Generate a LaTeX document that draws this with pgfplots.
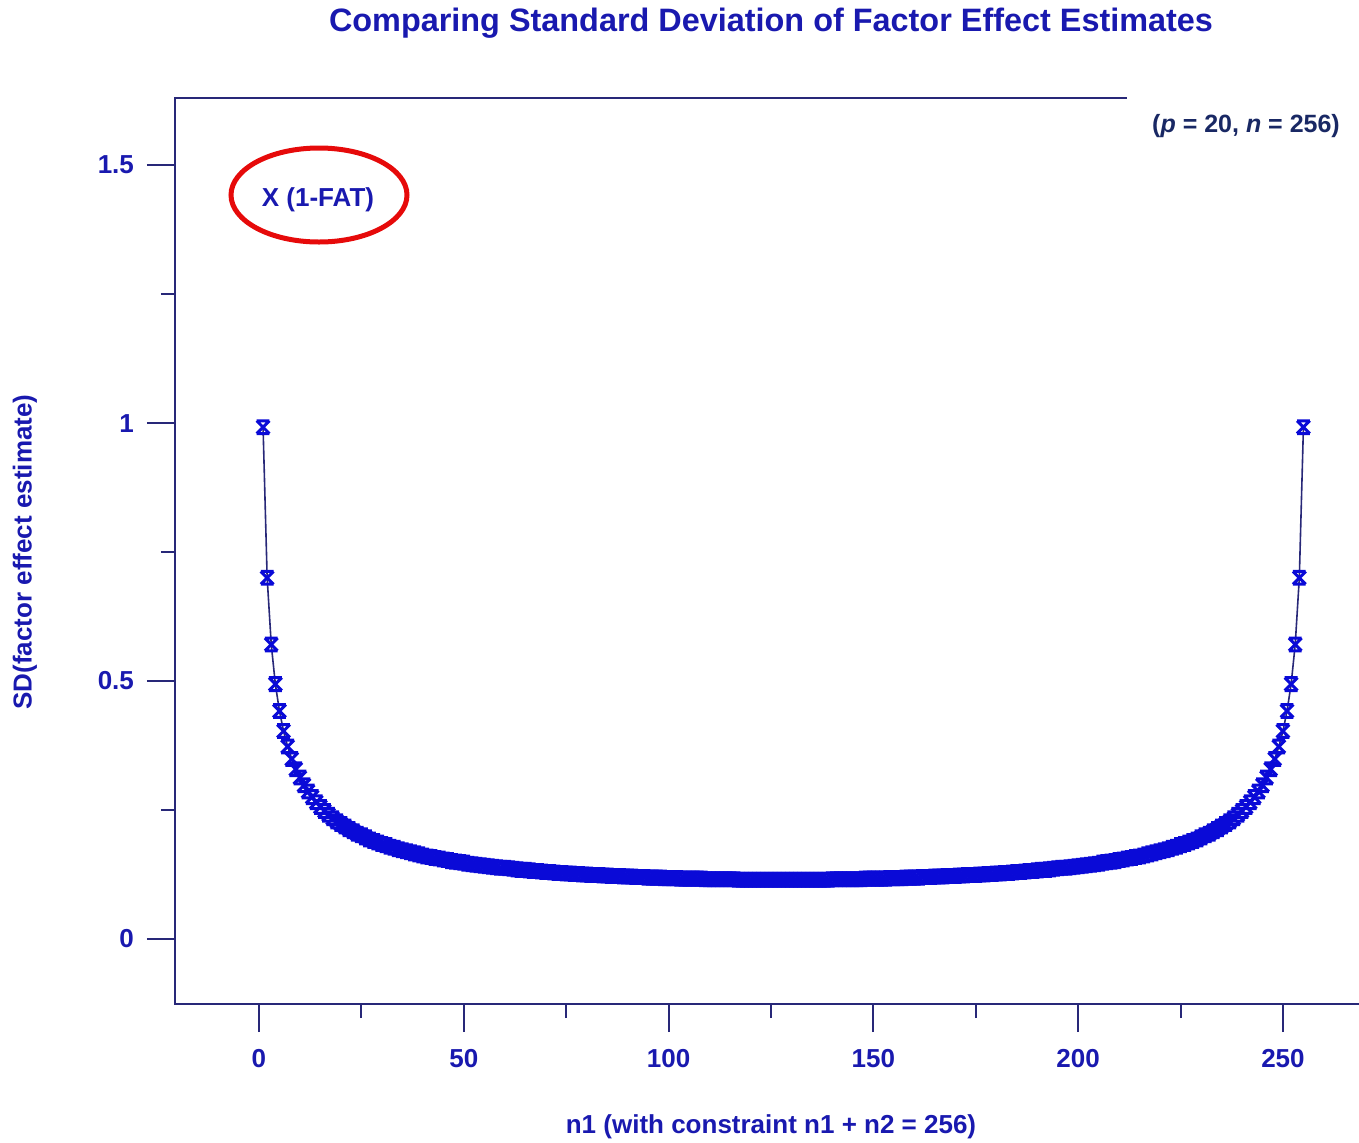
\documentclass[border=0pt]{standalone}
\usepackage{fontspec}
\setmainfont{Liberation Sans}
\usepackage{pgfplots}
\pgfplotsset{compat=1.18}
\usepackage{pgfplotstable}

\definecolor{axnavy}{RGB}{40,40,120}
\definecolor{lblue}{RGB}{25,25,175}
\definecolor{mblue}{RGB}{10,10,215}
\definecolor{boxnavy}{RGB}{25,40,100}
\definecolor{ringred}{RGB}{230,10,10}

% X with a bar on top and bottom, as in the old plot
\pgfdeclareplotmark{hx}{%
  \pgfpathmoveto{\pgfqpoint{-\pgfplotmarksize}{\pgfplotmarksize}}%
  \pgfpathlineto{\pgfqpoint{\pgfplotmarksize}{-\pgfplotmarksize}}%
  \pgfpathmoveto{\pgfqpoint{-\pgfplotmarksize}{-\pgfplotmarksize}}%
  \pgfpathlineto{\pgfqpoint{\pgfplotmarksize}{\pgfplotmarksize}}%
  \pgfpathmoveto{\pgfqpoint{-\pgfplotmarksize}{\pgfplotmarksize}}%
  \pgfpathlineto{\pgfqpoint{\pgfplotmarksize}{\pgfplotmarksize}}%
  \pgfpathmoveto{\pgfqpoint{-\pgfplotmarksize}{-\pgfplotmarksize}}%
  \pgfpathlineto{\pgfqpoint{\pgfplotmarksize}{-\pgfplotmarksize}}%
  \pgfusepathqstroke}

% SD of factor effect estimate against n1 (n1 + n2 = 256)
\pgfplotstableread[row sep=\\]{
n sd\\
1 0.992\\ 2 0.700\\ 3 0.571\\ 4 0.494\\ 5 0.442\\ 6 0.403\\ 7 0.373\\ 8 0.349\\ 9 0.329\\ 10 0.313\\
11 0.298\\ 12 0.286\\ 13 0.275\\ 14 0.265\\ 15 0.256\\ 16 0.248\\ 17 0.241\\ 18 0.234\\ 19 0.228\\ 20 0.223\\
21 0.218\\ 22 0.213\\ 23 0.209\\ 24 0.204\\ 25 0.201\\ 26 0.197\\ 27 0.193\\ 28 0.190\\ 29 0.187\\ 30 0.184\\
31 0.182\\ 32 0.179\\ 33 0.177\\ 34 0.174\\ 35 0.172\\ 36 0.170\\ 37 0.168\\ 38 0.166\\ 39 0.164\\ 40 0.162\\
41 0.160\\ 42 0.159\\ 43 0.157\\ 44 0.156\\ 45 0.154\\ 46 0.153\\ 47 0.151\\ 48 0.150\\ 49 0.149\\ 50 0.148\\
51 0.146\\ 52 0.145\\ 53 0.144\\ 54 0.143\\ 55 0.142\\ 56 0.141\\ 57 0.140\\ 58 0.139\\ 59 0.138\\ 60 0.138\\
61 0.137\\ 62 0.136\\ 63 0.135\\ 64 0.134\\ 65 0.134\\ 66 0.133\\ 67 0.132\\ 68 0.132\\ 69 0.131\\ 70 0.130\\
71 0.130\\ 72 0.129\\ 73 0.128\\ 74 0.128\\ 75 0.127\\ 76 0.127\\ 77 0.126\\ 78 0.126\\ 79 0.125\\ 80 0.125\\
81 0.124\\ 82 0.124\\ 83 0.124\\ 84 0.123\\ 85 0.123\\ 86 0.122\\ 87 0.122\\ 88 0.122\\ 89 0.121\\ 90 0.121\\
91 0.121\\ 92 0.120\\ 93 0.120\\ 94 0.120\\ 95 0.119\\ 96 0.119\\ 97 0.119\\ 98 0.119\\ 99 0.118\\ 100 0.118\\
101 0.118\\ 102 0.118\\ 103 0.117\\ 104 0.117\\ 105 0.117\\ 106 0.117\\ 107 0.117\\ 108 0.117\\ 109 0.116\\ 110 0.116\\
111 0.116\\ 112 0.116\\ 113 0.116\\ 114 0.116\\ 115 0.116\\ 116 0.116\\ 117 0.115\\ 118 0.115\\ 119 0.115\\ 120 0.115\\
121 0.115\\ 122 0.115\\ 123 0.115\\ 124 0.115\\ 125 0.115\\ 126 0.115\\ 127 0.115\\ 128 0.115\\ 129 0.115\\ 130 0.115\\
131 0.115\\ 132 0.115\\ 133 0.115\\ 134 0.115\\ 135 0.115\\ 136 0.115\\ 137 0.115\\ 138 0.115\\ 139 0.115\\ 140 0.116\\
141 0.116\\ 142 0.116\\ 143 0.116\\ 144 0.116\\ 145 0.116\\ 146 0.116\\ 147 0.116\\ 148 0.117\\ 149 0.117\\ 150 0.117\\
151 0.117\\ 152 0.117\\ 153 0.117\\ 154 0.118\\ 155 0.118\\ 156 0.118\\ 157 0.118\\ 158 0.119\\ 159 0.119\\ 160 0.119\\
161 0.119\\ 162 0.120\\ 163 0.120\\ 164 0.120\\ 165 0.121\\ 166 0.121\\ 167 0.121\\ 168 0.122\\ 169 0.122\\ 170 0.122\\
171 0.123\\ 172 0.123\\ 173 0.124\\ 174 0.124\\ 175 0.124\\ 176 0.125\\ 177 0.125\\ 178 0.126\\ 179 0.126\\ 180 0.127\\
181 0.127\\ 182 0.128\\ 183 0.128\\ 184 0.129\\ 185 0.130\\ 186 0.130\\ 187 0.131\\ 188 0.132\\ 189 0.132\\ 190 0.133\\
191 0.134\\ 192 0.134\\ 193 0.135\\ 194 0.136\\ 195 0.137\\ 196 0.138\\ 197 0.138\\ 198 0.139\\ 199 0.140\\ 200 0.141\\
201 0.142\\ 202 0.143\\ 203 0.144\\ 204 0.145\\ 205 0.146\\ 206 0.148\\ 207 0.149\\ 208 0.150\\ 209 0.151\\ 210 0.153\\
211 0.154\\ 212 0.156\\ 213 0.157\\ 214 0.159\\ 215 0.160\\ 216 0.162\\ 217 0.164\\ 218 0.166\\ 219 0.168\\ 220 0.170\\
221 0.172\\ 222 0.174\\ 223 0.177\\ 224 0.179\\ 225 0.182\\ 226 0.184\\ 227 0.187\\ 228 0.190\\ 229 0.193\\ 230 0.197\\
231 0.201\\ 232 0.204\\ 233 0.209\\ 234 0.213\\ 235 0.218\\ 236 0.223\\ 237 0.228\\ 238 0.234\\ 239 0.241\\ 240 0.248\\
241 0.256\\ 242 0.265\\ 243 0.275\\ 244 0.286\\ 245 0.298\\ 246 0.313\\ 247 0.329\\ 248 0.349\\ 249 0.373\\ 250 0.403\\
251 0.442\\ 252 0.494\\ 253 0.571\\ 254 0.700\\ 255 0.992\\
}\sdtable

\begin{document}
\begin{tikzpicture}
\useasboundingbox (0,0) rectangle (679.5pt,-571pt);
\begin{axis}[
    at={(87.5pt,-49pt)}, anchor=north west,
    scale only axis, width=602.5pt, height=453pt,
    xmin=-20.5, xmax=273.7, ymin=-0.126, ymax=1.63,
    axis line style={draw=axnavy, line width=1pt},
    xtick={0,50,...,250}, minor xtick={25,75,...,225},
    ytick={0,0.5,1,1.5}, minor ytick={0.25,0.75,1.25},
    xtick pos=bottom, ytick pos=left,
    tick align=outside, major tick length=14pt, minor tick length=7pt,
    tick style={draw=axnavy, line width=1pt},
    ticklabel style={font=\fontsize{13}{15}\selectfont\bfseries, text=lblue},
    xticklabel style={yshift=-5pt},
    yticklabel style={xshift=-3pt},
    /pgf/number format/assume math mode=true,
]
\addplot[draw=axnavy, line width=0.8pt, mark=hx, mark size=3.2pt,
    mark options={draw=mblue, line width=1.5pt}] table[x=n, y=sd] {\sdtable};
\end{axis}
\begin{scope}[x=0.5pt, y=-0.5pt]
  \node[font=\fontsize{16.2}{19}\selectfont\bfseries, text=lblue] at (771,23)
    {Comparing Standard Deviation of Factor Effect Estimates};
  \node[rotate=90, font=\fontsize{13}{15}\selectfont\bfseries, text=lblue] at (25,552)
    {SD(factor effect estimate)};
  \node[font=\fontsize{13}{15}\selectfont\bfseries, text=lblue] at (771,1127)
    {n1 (with constraint n1 + n2 = 256)};
  \fill[white] (1127,90) rectangle (1359,158);
  \node[font=\fontsize{12.5}{15}\selectfont\bfseries, text=boxnavy] at (1246,126)
    {(\textit{p} = 20, \textit{n} = 256)};
  \node[font=\fontsize{13}{15}\selectfont\bfseries, text=lblue] at (318,200) {X (1-FAT)};
  \draw[ringred, line width=2.5pt] (319,195) ellipse [x radius=88, y radius=47];
\end{scope}
\end{tikzpicture}
\end{document}
